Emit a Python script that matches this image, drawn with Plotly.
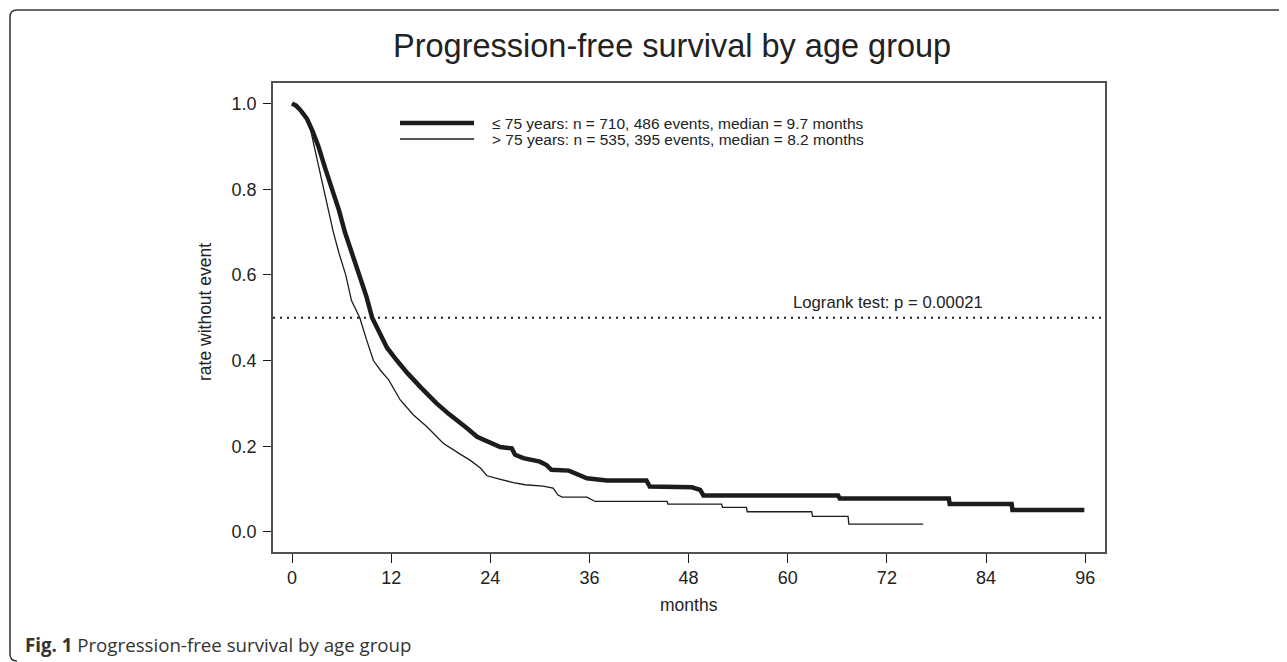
import plotly.graph_objects as go

# ---- data (months, survival proportion) ----
months_le75 = [0, 0.5, 1.0, 1.8, 2.5, 3.2, 4.0, 4.9, 5.7, 6.4, 7.3, 8.2, 9.0, 9.7, 10.5,
               11.5, 12.7, 14.0, 15.7, 17.5, 19.0, 20.3, 21.3, 22.4, 23.5, 25.2, 26.6, 27.0,
               28.0, 30.0, 30.8, 31.4, 33.5, 34.7, 35.7, 38.1, 42.9, 43.3, 48.4, 49.4, 49.8,
               66.1, 66.3, 79.5, 79.6, 87.1, 87.2, 95.9]
surv_le75 = [1.0, 0.995, 0.985, 0.965, 0.935, 0.90, 0.85, 0.80, 0.75, 0.70, 0.65, 0.60, 0.55,
             0.50, 0.47, 0.43, 0.40, 0.37, 0.335, 0.30, 0.275, 0.257, 0.24, 0.222, 0.213,
             0.198, 0.195, 0.18, 0.172, 0.164, 0.156, 0.145, 0.143, 0.133, 0.125, 0.12, 0.12,
             0.106, 0.104, 0.098, 0.085, 0.085, 0.078, 0.078, 0.065, 0.065, 0.051, 0.051]

months_gt75 = [0, 1.0, 1.8, 2.2, 2.8, 3.3, 3.8, 4.4, 5.0, 5.7, 6.5, 7.2, 8.2, 9.0, 9.85,
               10.8, 11.7, 13.1, 14.7, 16.3, 18.3, 20.3, 21.5, 22.8, 23.6, 25.0, 26.8, 28.2,
               30.4, 31.6, 32.2, 32.7, 35.7, 36.7, 45.4, 45.5, 52.0, 52.1, 55.0, 55.1, 62.9,
               63.0, 67.3, 67.4, 76.4]
surv_gt75 = [1.0, 0.985, 0.965, 0.943, 0.89, 0.845, 0.80, 0.75, 0.70, 0.65, 0.60, 0.54, 0.50,
             0.45, 0.40, 0.375, 0.355, 0.308, 0.273, 0.246, 0.207, 0.182, 0.168, 0.149, 0.131,
             0.124, 0.115, 0.11, 0.107, 0.102, 0.086, 0.081, 0.081, 0.071, 0.071, 0.065, 0.065,
             0.057, 0.057, 0.047, 0.047, 0.036, 0.036, 0.018, 0.018]

x_ticks = [0, 12, 24, 36, 48, 60, 72, 84, 96]
y_ticks = [0.0, 0.2, 0.4, 0.6, 0.8, 1.0]
legend_labels = ["\u2264 75 years: n = 710, 486 events, median = 9.7 months",
                 "> 75 years: n = 535, 395 events, median = 8.2 months"]
logrank_text = "Logrank test: p = 0.00021"
median_line = 0.5

# ---- layout geometry: screen pixels, page body has an 8px margin ----
OFF = 8
W, H = 1287 - OFF, 662 - OFF
L, R, T, B = 273 - OFF, 1105 - OFF, 83 - OFF, 552 - OFF


def px(x):  # screen x -> paper
    return (x - OFF - L) / (R - L)


def py(y):  # screen y -> paper
    return (B - (y - OFF)) / (B - T)


INK = "#1c1c1c"
AX = "#505050"
SANS = "Liberation Sans, Arial, sans-serif"
OPEN = "Open Sans, sans-serif"
TXT = "#222"

fig = go.Figure()
fig.add_trace(go.Scatter(x=months_le75, y=surv_le75, mode="lines",
                         line=dict(color=INK, width=4.5), showlegend=False,
                         name=legend_labels[0]))
fig.add_trace(go.Scatter(x=months_gt75, y=surv_gt75, mode="lines",
                         line=dict(color=INK, width=1.3), showlegend=False,
                         name=legend_labels[1]))

fig.add_hline(y=median_line, line=dict(color=INK, width=2, dash="2px,5px"))

shapes = []
shapes.append(dict(type="line", xref="paper", yref="paper", x0=px(400), x1=px(474),
                   y0=py(123), y1=py(123), line=dict(color=INK, width=4.5)))
shapes.append(dict(type="line", xref="paper", yref="paper", x0=px(400), x1=px(474),
                   y0=py(139), y1=py(139), line=dict(color=INK, width=1.6)))
r = 7
x_l, y_t, x_r, y_b = 10, 10, 1287, 661
path = (f"M {px(x_r)},{py(y_t)} L {px(x_l + r)},{py(y_t)} "
        f"Q {px(x_l)},{py(y_t)} {px(x_l)},{py(y_t + r)} "
        f"L {px(x_l)},{py(y_b - r)} Q {px(x_l)},{py(y_b)} {px(x_l + r)},{py(y_b)}")
shapes.append(dict(type="path", xref="paper", yref="paper", path=path,
                   line=dict(color="#3a3a3a", width=1.6)))
for s in shapes:
    fig.add_shape(**s)

ann = []
ann.append(dict(text="Progression-free survival by age group", x=px(672), y=py(46),
                xanchor="center", font=dict(family=SANS, size=32.5, color=TXT)))
ann.append(dict(text=legend_labels[0], x=px(490), y=py(123), xanchor="left",
                font=dict(family=SANS, size=15.5, color=TXT)))
ann.append(dict(text=legend_labels[1], x=px(490), y=py(139), xanchor="left",
                font=dict(family=SANS, size=15.5, color=TXT)))
ann.append(dict(text=logrank_text, x=px(791), y=py(302), xanchor="left",
                font=dict(family=SANS, size=16.7, color=TXT)))
ann.append(dict(text="<b>Fig. 1</b> Progression-free survival by age group", x=px(23),
                y=py(644), xanchor="left", font=dict(family=OPEN, size=18.7, color="#333")))
ann.append(dict(text="months", x=px(689), y=py(605), xanchor="center",
                font=dict(family=SANS, size=17.5, color=TXT)))
ann.append(dict(text="rate without event", x=px(205), y=py(312), xanchor="center",
                textangle=-90, font=dict(family=SANS, size=17.5, color=TXT)))
for a in ann:
    fig.add_annotation(xref="paper", yref="paper", showarrow=False, yanchor="middle", **a)

fig.update_layout(
    width=W, height=H,
    margin=dict(l=L, r=W - R, t=T, b=H - B, pad=0),
    paper_bgcolor="white", plot_bgcolor="white",
    showlegend=False,
)
fig.update_xaxes(range=[-2.3, 98.4], tickvals=x_ticks, ticks="outside", ticklen=9,
                 tickwidth=1.2, tickcolor=INK, showline=True, mirror=True, linecolor=AX,
                 linewidth=1.6, showgrid=False, zeroline=False, ticklabelstandoff=0,
                 tickfont=dict(family=SANS, size=18, color=TXT))
fig.update_yaxes(range=[-0.047, 1.048], tickvals=y_ticks, tickformat=".1f", ticks="outside",
                 ticklen=8, tickwidth=1.2, tickcolor=INK, showline=True, mirror=True,
                 linecolor=AX, linewidth=1.6, showgrid=False, zeroline=False,
                 ticklabelstandoff=3,
                 tickfont=dict(family=SANS, size=18, color=TXT))

fig.write_html("out.html")
